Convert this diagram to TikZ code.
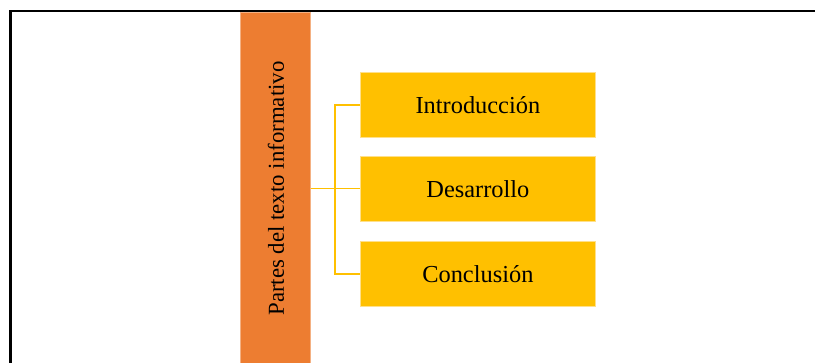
\documentclass[tikz,border=0pt]{standalone}
\usepackage{fontspec}
\setmainfont{Liberation Serif}
\definecolor{barorange}{HTML}{ED7D31}
\definecolor{boxyellow}{HTML}{FFC000}
\definecolor{edgeorange}{HTML}{F4B183}
\definecolor{edgeyellow}{HTML}{FFE08A}
\begin{document}
\begin{tikzpicture}[x=0.75pt,y=-0.75pt,
  partbox/.style={draw=edgeyellow, line width=0.6pt, fill=boxyellow, minimum width=235*0.75pt, minimum height=65*0.75pt, inner sep=0pt, anchor=north west, font=\fontsize{18.3}{22}\selectfont},
  sidebar/.style={draw=edgeorange, line width=0.6pt, fill=barorange, minimum width=70*0.75pt, minimum height=380*0.75pt, inner sep=0pt, anchor=north west},
  branch/.style={draw=boxyellow, line width=1.2pt}]
\useasboundingbox (0,0) rectangle (815,362);
\clip (0,0) rectangle (815,362);
\fill[white] (0,0) rectangle (815,362);
\draw[line width=1.6pt, black] (10.5,380) -- (10.5,11) -- (830,11);
\node[sidebar] (bar) at (240,11.8) {};
\node[rotate=90, font=\fontsize{17.1}{20}\selectfont] (bartext) at (276,188.5) {Partes del texto informativo};
\node[partbox] (intro) at (360,72) {Introducción};
\node[partbox] (des) at (360,156) {Desarrollo};
\node[partbox] (conc) at (360,241) {Conclusión};
\coordinate (fork) at (335,188.5);
\draw[branch] (bar.east |- fork) -- (fork);
\draw[branch] (intro.west) -| (fork) |- (conc.west);
\draw[branch] (fork) -- (fork -| des.west);
\end{tikzpicture}
\end{document}
